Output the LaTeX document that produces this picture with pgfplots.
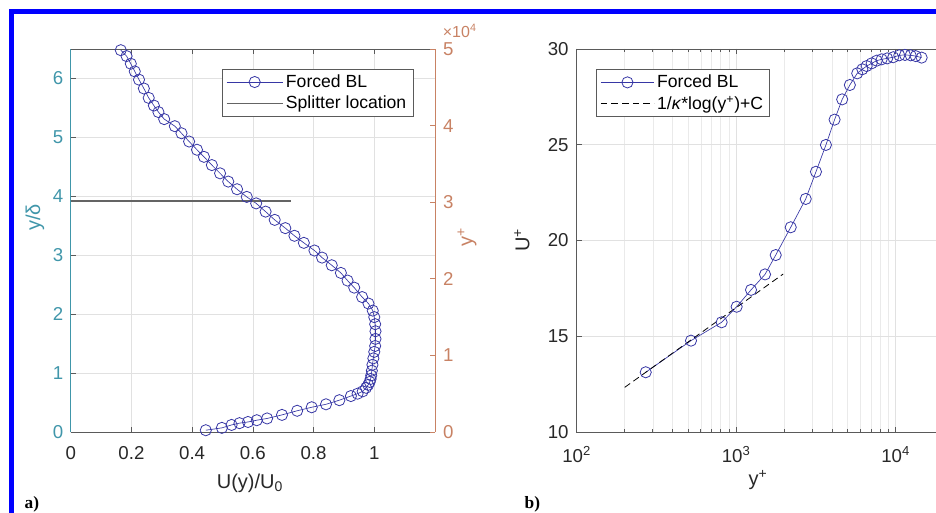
\documentclass[border=0pt]{standalone}
\usepackage{fontspec}
\setmainfont{Liberation Sans}
\newfontfamily\serifbold{Liberation Serif}
\usepackage{pgfplots}
\pgfplotsset{compat=1.18}
\definecolor{tealax}{RGB}{64,150,170}
\definecolor{orangeax}{RGB}{200,130,100}
\definecolor{datablue}{RGB}{55,55,165}
\definecolor{gridgray}{RGB}{225,225,225}
\definecolor{axgray}{RGB}{90,90,90}
\definecolor{txtgray}{RGB}{40,40,40}
\definecolor{frameblue}{RGB}{0,0,255}
\pgfplotsset{
  common/.style={scale only axis, tick align=inside, major tick length=4pt, minor tick length=2pt,
    tick style={axgray, line width=0.5pt}, axis line style={axgray, line width=0.6pt},
    grid style={gridgray, line width=0.5pt},
    tick label style={font=\fontsize{14}{16}\selectfont, text=txtgray},
    xticklabel style={yshift=-7.5pt},
    label style={font=\fontsize{15}{17}\selectfont, text=txtgray},
    legend style={font=\fontsize{13.2}{15}\selectfont, draw=axgray, line width=0.6pt, inner xsep=3pt, inner ysep=2pt, row sep=1pt, text=black},
    legend cell align=left,
  },
}
\begin{document}
\begin{tikzpicture}
\useasboundingbox (0,0) rectangle (702pt,384.75pt);
\clip (0,0) rectangle (702pt,384.75pt);
\draw[frameblue, line width=3.75pt] (8.6pt,-20pt) rectangle (730pt,376.1pt);

% ---------- panel a) ----------
\begin{axis}[common, at={(53.03pt,60.75pt)}, anchor=south west, width=273.2pt, height=287.25pt,
  xmin=0, xmax=1.2, ymin=0, ymax=6.5,
  xtick={0,0.2,0.4,0.6,0.8,1}, xticklabels={0,0.2,0.4,0.6,0.8,1},
  ytick={0,1,2,3,4,5,6}, yticklabels={0,1,2,3,4,5,6},
  ytick pos=left, xtick pos=both,
  separate axis lines, y axis line style={tealax},
  yticklabel style={text=tealax, xshift=-2pt},
  grid=major,
  xlabel={U(y)/U\textsubscript{0}}, ylabel={y/δ},
  xlabel style={at={(axis description cs:0.492,-0.133)}, anchor=center},
  ylabel style={text=tealax, at={(axis description cs:-0.098,0.56)}, anchor=center},
  legend style={at={(0.4145,0.948)}, anchor=north west},
  legend image code/.code={\draw[mark repeat=2,mark phase=2,#1] plot coordinates {(0pt,0pt) (21pt,0pt) (42pt,0pt)};},
]
\addplot[datablue, line width=0.5pt, mark=o, mark size=4.2pt, mark options={line width=0.6pt}] coordinates {
(0.165,6.48)(0.184,6.38)(0.198,6.25)(0.211,6.12)(0.225,5.98)(0.241,5.83)(0.257,5.67)(0.274,5.54)
(0.289,5.43)(0.308,5.31)(0.343,5.19)(0.365,5.07)(0.390,4.93)(0.416,4.79)(0.439,4.67)(0.465,4.53)
(0.492,4.39)(0.519,4.25)(0.548,4.12)(0.580,3.99)(0.611,3.88)(0.642,3.74)(0.672,3.60)(0.707,3.46)
(0.737,3.33)(0.768,3.21)(0.803,3.08)(0.828,2.96)(0.860,2.83)(0.890,2.70)(0.912,2.57)(0.934,2.45)
(0.960,2.29)(0.981,2.18)(0.995,2.06)(1.000,1.95)(1.003,1.83)(1.004,1.71)(1.004,1.58)(1.003,1.46)
(1.000,1.36)(0.997,1.25)(0.994,1.14)(0.992,1.04)(0.990,0.96)(0.988,0.90)(0.985,0.85)(0.980,0.80)
(0.973,0.75)(0.962,0.69)(0.945,0.65)(0.923,0.61)(0.885,0.54)(0.841,0.47)(0.794,0.42)(0.746,0.36)
(0.696,0.29)(0.647,0.23)(0.613,0.20)(0.584,0.17)(0.556,0.15)(0.530,0.12)(0.498,0.07)(0.445,0.03)
};
\addlegendentry{Forced BL}
\addplot[color={rgb,255:red,100;green,100;blue,100}, line width=0.9pt] coordinates {(0,3.92) (0.725,3.92)};
\addlegendentry{Splitter location}
\end{axis}

\begin{axis}[common, at={(53.03pt,60.75pt)}, anchor=south west, width=273.2pt, height=287.25pt,
  xmin=0, xmax=1.2, ymin=0, ymax=50000, clip=false,
  hide x axis, axis y line*=right, axis line style={orangeax, line width=0.6pt},
  tick style={orangeax}, scaled y ticks=false,
  ytick={0,10000,20000,30000,40000,50000}, yticklabels={0,1,2,3,4,5},
  yticklabel style={text=orangeax, xshift=2.5pt},
  ylabel={y\textsuperscript{+}},
  ylabel style={text=orangeax, at={(axis description cs:1.088,0.509)}, anchor=center},
]
\addplot[draw=none] coordinates {(0,0)};
\node[text=orangeax, font=\fontsize{12}{14}\selectfont] at (rel axis cs:1.068,1.047) {×10\textsuperscript{4}};
\end{axis}

% ---------- panel b) ----------
\begin{axis}[common, at={(432.5pt,60.75pt)}, anchor=south west, width=275.25pt, height=287.25pt,
  xmode=log, xmin=100, xmax=20000, ymin=10, ymax=30,
  xtick={100,1000,10000}, xticklabels={10\textsuperscript{2},10\textsuperscript{3},10\textsuperscript{4}},
  ytick={10,15,20,25,30}, yticklabels={10,15,20,25,30},
  yticklabel style={xshift=-2.5pt},
  xtick pos=both, ytick pos=both,
  xmajorgrids, ymajorgrids, xminorgrids, minor grid style={gridgray!70, line width=0.4pt},
  xlabel={y\textsuperscript{+}}, ylabel={U\textsuperscript{+}},
  xlabel style={at={(axis description cs:0.494,-0.125)}, anchor=center},
  ylabel style={at={(axis description cs:-0.149,0.501)}, anchor=center},
  legend style={at={(0.0526,0.947)}, anchor=north west},
  legend image code/.code={\draw[mark repeat=2,mark phase=2,#1] plot coordinates {(0pt,0pt) (20pt,0pt) (40pt,0pt)};},
]
\addplot[datablue, line width=0.5pt, mark=o, mark size=4.2pt, mark options={line width=0.6pt}] coordinates {
(271,13.12)(521,14.77)(811,15.73)(1007,16.54)(1239,17.42)(1517,18.23)(1770,19.24)(2198,20.69)
(2730,22.17)(3165,23.59)(3654,24.99)(4140,26.31)(4620,27.37)(5160,28.12)(5740,28.73)(6180,28.94)
(6580,29.11)(7070,29.25)(7610,29.39)(8170,29.46)(8850,29.51)(9650,29.57)(10540,29.67)(11440,29.69)
(12410,29.67)(13340,29.63)(14550,29.55)
};
\addlegendentry{Forced BL}
\addplot[black, dash pattern=on 5pt off 3pt, line width=0.6pt] coordinates {(200,12.33) (1972,18.25)};
\addlegendentry{1/\textit{κ}*log(y\textsuperscript{+})+C}
\end{axis}

\node[anchor=base west, font=\serifbold\bfseries\fontsize{13}{15}\selectfont] at (15pt,3pt) {a)};
\node[anchor=base west, font=\serifbold\bfseries\fontsize{13}{15}\selectfont] at (390pt,3pt) {b)};
\end{tikzpicture}
\end{document}
